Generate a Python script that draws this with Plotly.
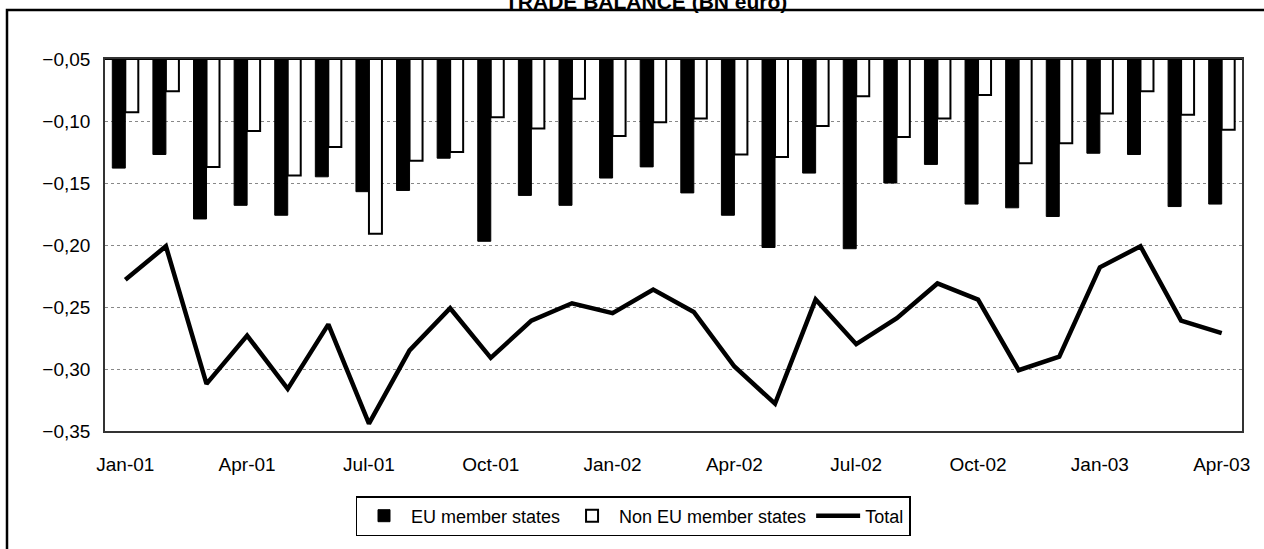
import plotly.graph_objects as go

months = ["Jan-01", "Feb-01", "Mar-01", "Apr-01", "May-01", "Jun-01", "Jul-01",
          "Aug-01", "Sep-01", "Oct-01", "Nov-01", "Dec-01", "Jan-02", "Feb-02",
          "Mar-02", "Apr-02", "May-02", "Jun-02", "Jul-02", "Aug-02", "Sep-02",
          "Oct-02", "Nov-02", "Dec-02", "Jan-03", "Feb-03", "Mar-03", "Apr-03"]

eu_member = [-0.138, -0.127, -0.179, -0.168, -0.176, -0.145, -0.157,
             -0.156, -0.130, -0.197, -0.160, -0.168, -0.146, -0.137,
             -0.158, -0.176, -0.202, -0.142, -0.203, -0.150, -0.135,
             -0.167, -0.170, -0.177, -0.126, -0.127, -0.169, -0.167]

non_eu_member = [-0.093, -0.076, -0.137, -0.108, -0.144, -0.121, -0.191,
                 -0.132, -0.125, -0.097, -0.106, -0.082, -0.112, -0.101,
                 -0.098, -0.127, -0.129, -0.104, -0.080, -0.113, -0.098,
                 -0.079, -0.134, -0.118, -0.094, -0.076, -0.095, -0.107]

total = [-0.228, -0.201, -0.312, -0.273, -0.316, -0.264, -0.344,
         -0.285, -0.251, -0.291, -0.261, -0.247, -0.255, -0.236,
         -0.254, -0.298, -0.328, -0.244, -0.280, -0.259, -0.231,
         -0.244, -0.301, -0.290, -0.218, -0.201, -0.261, -0.271]

bar_top = -0.05
y_ticks = [-0.35, -0.30, -0.25, -0.20, -0.15, -0.10, -0.05]
x_tick_labels = months[::3]

FONT = "Liberation Sans, Arial, sans-serif"

fig = go.Figure()
fig.add_trace(go.Bar(
    x=months, y=[v - bar_top for v in eu_member], base=bar_top,
    name="EU member states",
    marker=dict(color="black", line=dict(color="black", width=1)),
))
fig.add_trace(go.Bar(
    x=months, y=[v - bar_top for v in non_eu_member], base=bar_top,
    name="Non EU member states",
    marker=dict(color="white", line=dict(color="black", width=2)),
))
fig.add_trace(go.Scatter(
    x=months, y=total, name="Total", mode="lines",
    line=dict(color="black", width=4.5),
))

W, H = 1264, 549
L, R, T, B = 105, 22, 59, 118
pw, ph = W - L - R, H - T - B

def px_x(p):
    return (p - L) / pw

def px_y(p):
    return (H - B - p) / ph

fig.update_layout(
    width=W, height=H,
    margin=dict(l=L, r=R, t=T, b=B, autoexpand=False),
    paper_bgcolor="white", plot_bgcolor="white",
    separators=",.",
    font=dict(family=FONT, size=19, color="black"),
    barmode="group", bargap=0.36, bargroupgap=0.0,
    showlegend=True,
    legend=dict(
        orientation="h", x=px_x(633), xanchor="center",
        y=px_y(516), yanchor="middle",
        bordercolor="black", borderwidth=1.5, bgcolor="white",
        font=dict(size=18, family=FONT), traceorder="normal",
        itemwidth=44, tracegroupgap=0,
    ),
    xaxis=dict(
        type="category", categoryorder="array", categoryarray=months,
        tickmode="array", tickvals=x_tick_labels, ticktext=x_tick_labels,
        showgrid=False, ticks="", ticklabelstandoff=15,
        showline=True, linecolor="#333", linewidth=1.5, mirror=True,
        tickfont=dict(size=19),
    ),
    yaxis=dict(
        range=[-0.35, -0.05], tickmode="array", tickvals=y_ticks,
        tickformat=".2f", showgrid=True, gridcolor="#888", griddash="dot",
        gridwidth=1, ticks="", ticklabelstandoff=9, zeroline=False,
        showline=True, linecolor="#333", linewidth=1.5, mirror=True,
        tickfont=dict(size=19),
    ),
    shapes=[
        dict(type="rect", xref="paper", yref="paper",
             x0=px_x(7), x1=px_x(W + 5), y0=px_y(H + 5), y1=px_y(10),
             line=dict(color="black", width=2.5), fillcolor="rgba(0,0,0,0)",
             layer="below"),
        dict(type="line", xref="paper", yref="y", x0=0, x1=1,
             y0=bar_top, y1=bar_top, line=dict(color="black", width=2)),
    ],
    annotations=[
        dict(text="<b>TRADE BALANCE (BN euro)</b>", xref="paper", yref="paper",
             x=px_x(646), y=px_y(2), xanchor="center", yanchor="middle",
             showarrow=False, font=dict(size=21, family=FONT, color="black")),
    ],
)

fig.write_html(
    "out.html",
    config={"displayModeBar": False},
    post_script="document.body.style.margin='0';document.body.style.overflow='hidden';",
)
